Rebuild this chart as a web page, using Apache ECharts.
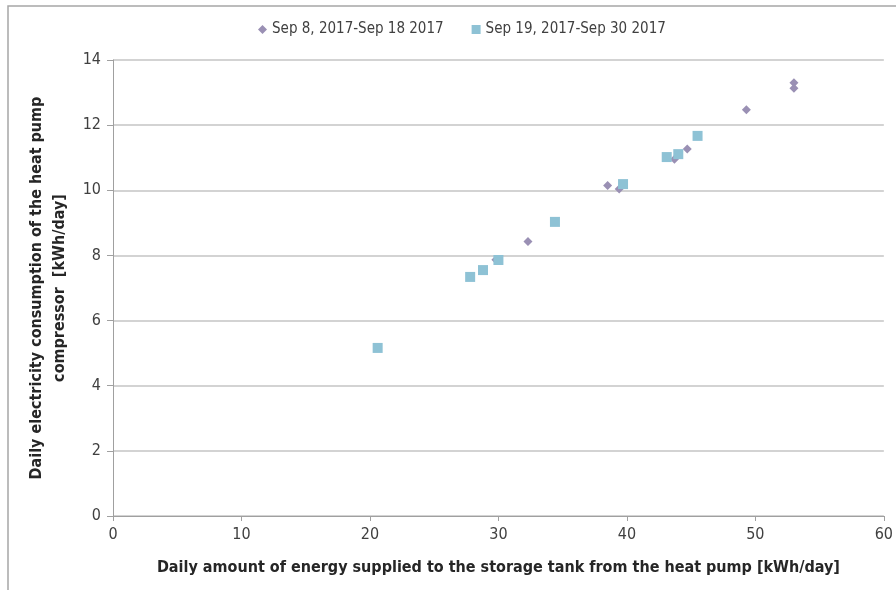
<!DOCTYPE html>
<html><head><meta charset="utf-8">
<script src="https://cdn.jsdelivr.net/npm/echarts@6/dist/echarts.min.js"></script>
<style>html,body{margin:0;padding:0;background:#fff}#c{width:896px;height:590px}</style>
</head><body><div id="c"></div>
<script>
const seriesNames = ['Sep 8, 2017-Sep 18 2017', 'Sep 19, 2017-Sep 30 2017'];
const period1X = [29.8, 32.3, 38.5, 39.4, 43.7, 44.7, 49.3, 53.0, 53.0];
const period1Y = [7.87, 8.43, 10.15, 10.04, 10.95, 11.27, 12.47, 13.30, 13.13];
const period2X = [20.6, 27.8, 28.8, 30.0, 34.4, 39.7, 43.1, 44.0, 45.5];
const period2Y = [5.16, 7.34, 7.55, 7.86, 9.03, 10.19, 11.02, 11.11, 11.67];
const xTitle = 'Daily amount of energy supplied to the storage tank from the heat pump [kWh/day]';
const yTitle = 'Daily electricity consumption of the heat pump\ncompressor  [kWh/day]';

const pairs = (xs, ys) => xs.map((x, i) => [x, ys[i]]);
const FONT = '"DejaVu Sans Condensed", "Liberation Sans", sans-serif';
const chart = echarts.init(document.getElementById('c'), null, {renderer: 'canvas'});
chart.setOption({
  animation: false,
  backgroundColor: '#fff',
  graphic: [{type: 'rect', shape: {x: 8, y: 6, width: 900, height: 600}, style: {fill: 'none', stroke: '#a6a6a6', lineWidth: 1.5}, silent: true}],
  legend: {
    top: 17, left: 253, itemGap: 28, itemWidth: 9, itemHeight: 9,
    textStyle: {fontFamily: FONT, fontSize: 15, color: '#404040'},
    data: [{name: seriesNames[0], icon: 'diamond'}, {name: seriesNames[1], icon: 'rect'}]
  },
  grid: {left: 113, right: 5, top: 60, bottom: 74},
  xAxis: {
    type: 'value', min: 0, max: 60, interval: 10,
    name: xTitle, nameLocation: 'middle', nameGap: 44,
    nameTextStyle: {fontFamily: FONT, fontSize: 16, fontWeight: 'bold', color: '#262626'},
    axisLine: {show: true, lineStyle: {color: '#a0a0a0', width: 1}},
    axisTick: {show: true, inside: false, length: 5, lineStyle: {color: '#a0a0a0'}},
    axisLabel: {fontFamily: FONT, fontSize: 16, color: '#404040', margin: 11},
    splitLine: {show: false}
  },
  yAxis: {
    type: 'value', min: 0, max: 14, interval: 2,
    name: yTitle, nameLocation: 'middle', nameGap: 37, nameRotate: 90,
    nameTextStyle: {fontFamily: FONT, fontSize: 16, fontWeight: 'bold', color: '#262626', lineHeight: 23},
    axisLine: {show: true, lineStyle: {color: '#a0a0a0', width: 1}},
    axisTick: {show: true, inside: false, length: 6, lineStyle: {color: '#a0a0a0'}},
    axisLabel: {fontFamily: FONT, fontSize: 16, color: '#404040', margin: 12},
    splitLine: {show: true, lineStyle: {color: '#c4c4c4', width: 1.5}}
  },
  series: [
    {name: seriesNames[0], type: 'scatter', symbol: 'diamond', symbolSize: 9,
     itemStyle: {color: '#9a90b4', opacity: 1}, data: pairs(period1X, period1Y), z: 2},
    {name: seriesNames[1], type: 'scatter', symbol: 'rect', symbolSize: 10,
     itemStyle: {color: '#8ec2d5', opacity: 1}, data: pairs(period2X, period2Y), z: 3}
  ]
});
</script></body></html>
